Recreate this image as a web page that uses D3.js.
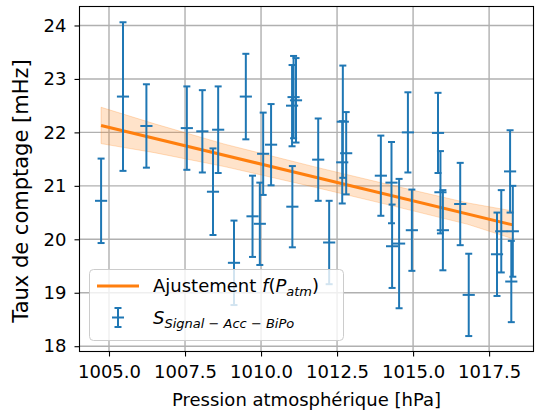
<!DOCTYPE html>
<html><head><meta charset="utf-8">
<script src="https://cdn.jsdelivr.net/npm/d3@7"></script>
<style>body{margin:0;background:#fff;} svg{display:block;font-family:"DejaVu Sans",sans-serif;}</style>
</head><body><svg id="c" width="535" height="414"></svg>
<script>
// Data
const pressure = [1004.74,1005.46,1006.23,1007.56,1008.07,1008.59,1008.42,1009.11,1009.50,1009.72,
  1009.96,1010.07,1010.33,1011.02,1011.07,1011.15,1011.03,1011.88,1012.24,1012.69,
  1012.67,1012.80,1013.94,1014.29,1014.31,1014.54,1014.83,1014.96,1015.82,1015.90,
  1015.98,1016.55,1016.83,1017.76,1017.90,1018.19,1018.28,1018.23];
const rate = [20.72,22.67,22.12,22.08,22.02,22.05,20.89,19.56,22.67,20.43,
  20.29,21.60,21.77,22.50,22.66,22.60,20.61,21.49,19.94,22.20,
  21.44,21.61,21.19,21.06,19.87,19.92,22.00,20.17,21.99,20.88,
  20.17,20.66,18.96,19.72,20.15,21.27,20.15,19.21];
const rateErr = [0.79,1.39,0.78,0.78,0.77,0.81,0.81,0.79,0.80,0.76,
  0.77,0.77,0.76,0.76,0.77,0.79,0.76,0.77,0.78,1.05,
  0.77,0.77,0.75,0.76,0.78,1.21,0.75,0.76,0.75,0.77,
  0.75,0.77,0.77,0.78,0.77,0.77,0.85,0.76];
const pressureErr = [0.2];
const fitP = [1004.74, 1018.28];
const fitRate = [22.13, 20.27];
const bandP = [1004.74, 1006.5, 1008.8, 1011.8, 1014.3, 1016.8, 1018.28];
const bandUpper = [22.47, 22.16, 21.78, 21.35, 21.01, 20.68, 20.53];
const bandLower = [21.79, 21.62, 21.36, 20.97, 20.63, 20.28, 20.01];
const xTicks = [1005.0, 1007.5, 1010.0, 1012.5, 1015.0, 1017.5];
const yTicks = [18, 19, 20, 21, 22, 23, 24];

const BLUE = "#1f77b4", ORANGE = "#ff7f0e";
const L = 79.5, R = 533.5, T = 6.5, B = 351.5;
const FS = 18;
const svg = d3.select("#c");
const x = d3.scaleLinear().domain([1004.03, 1018.96]).range([L, R]);
const y = d3.scaleLinear().domain([17.901, 24.355]).range([B, T]);

// grid
const g = svg.append("g");
g.selectAll(".gx").data(xTicks).join("line")
  .attr("x1", d => x(d)).attr("x2", d => x(d)).attr("y1", T).attr("y2", B)
  .attr("stroke", "#b0b0b0").attr("stroke-width", 1.4);
g.selectAll(".gy").data(yTicks).join("line")
  .attr("y1", d => y(d)).attr("y2", d => y(d)).attr("x1", L).attr("x2", R)
  .attr("stroke", "#b0b0b0").attr("stroke-width", 1.4);

// band
const bandData = bandP.map((p, i) => ({p, u: bandUpper[i], l: bandLower[i]}));
svg.append("path").datum(bandData)
  .attr("d", d3.area().x(d => x(d.p)).y0(d => y(d.l)).y1(d => y(d.u)))
  .attr("fill", ORANGE).attr("fill-opacity", 0.22)
  .attr("stroke", ORANGE).attr("stroke-opacity", 0.25).attr("stroke-width", 1);

// fit line
svg.append("path").datum(fitP.map((p, i) => [p, fitRate[i]]))
  .attr("d", d3.line().x(d => x(d[0])).y(d => y(d[1])))
  .attr("stroke", ORANGE).attr("stroke-width", 3).attr("fill", "none");

// error bars
const pts = pressure.map((p, i) => ({p, r: rate[i], e: rateErr[i]}));
const eb = svg.append("g").attr("stroke", BLUE).attr("stroke-width", 2);
const cap = 3.5;
pts.forEach(d => {
  const cx = x(d.p), cy = y(d.r), y1 = y(d.r + d.e), y2 = y(d.r - d.e);
  eb.append("line").attr("x1", cx).attr("x2", cx).attr("y1", y1).attr("y2", y2);
  eb.append("line").attr("x1", cx - cap).attr("x2", cx + cap).attr("y1", y1).attr("y2", y1);
  eb.append("line").attr("x1", cx - cap).attr("x2", cx + cap).attr("y1", y2).attr("y2", y2);
  eb.append("line").attr("x1", x(d.p - pressureErr[0])).attr("x2", x(d.p + pressureErr[0])).attr("y1", cy).attr("y2", cy);
});

// axes
const ax = svg.append("g").attr("transform", `translate(0,${B})`)
  .call(d3.axisBottom(x).tickValues(xTicks).tickFormat(d3.format(".1f")).tickSizeInner(5).tickSizeOuter(0).tickPadding(9));
const ay = svg.append("g").attr("transform", `translate(${L},0)`)
  .call(d3.axisLeft(y).tickValues(yTicks).tickFormat(d3.format("d")).tickSizeInner(5).tickSizeOuter(0).tickPadding(8));
[ax, ay].forEach(a => {
  a.select(".domain").remove();
  a.selectAll("text").attr("font-size", FS).attr("font-family", "DejaVu Sans").attr("fill", "#000");
  a.selectAll("line").attr("stroke", "#000").attr("stroke-width", 1.1);
});
svg.append("rect").attr("x", L).attr("y", T).attr("width", R - L).attr("height", B - T)
  .attr("fill", "none").attr("stroke", "#000").attr("stroke-width", 1.1);

svg.append("text").attr("x", (L + R) / 2).attr("y", 406).attr("text-anchor", "middle")
  .attr("font-size", FS).text("Pression atmosphérique [hPa]");
svg.append("text").attr("transform", `translate(28,191) rotate(-90)`).attr("text-anchor", "middle")
  .attr("font-size", 21).text("Taux de comptage [mHz]");

// legend
const lg = svg.append("g");
lg.append("rect").attr("x", 89.5).attr("y", 269.5).attr("width", 254).attr("height", 71).attr("rx", 4)
  .attr("fill", "#fff").attr("fill-opacity", 0.8).attr("stroke", "#cccccc");
lg.append("line").attr("x1", 97).attr("x2", 139).attr("y1", 286).attr("y2", 286)
  .attr("stroke", ORANGE).attr("stroke-width", 3);
const t1 = lg.append("text").attr("x", 153).attr("y", 292).attr("font-size", FS);
t1.append("tspan").text("Ajustement ");
t1.append("tspan").attr("font-style", "italic").text("f");
t1.append("tspan").text("(");
t1.append("tspan").attr("font-style", "italic").text("P");
t1.append("tspan").attr("font-style", "italic").attr("font-size", 13).attr("dy", 4).text("atm");
t1.append("tspan").attr("dy", -4).text(")");
const lb = lg.append("g").attr("stroke", BLUE).attr("stroke-width", 2);
lb.append("line").attr("x1", 118).attr("x2", 118).attr("y1", 308).attr("y2", 327);
lb.append("line").attr("x1", 114.5).attr("x2", 121.5).attr("y1", 308).attr("y2", 308);
lb.append("line").attr("x1", 114.5).attr("x2", 121.5).attr("y1", 327).attr("y2", 327);
lb.append("line").attr("x1", 112).attr("x2", 124).attr("y1", 317.5).attr("y2", 317.5);
const t2 = lg.append("text").attr("x", 153).attr("y", 324).attr("font-size", FS);
t2.append("tspan").attr("font-style", "italic").text("S");
t2.append("tspan").attr("font-size", 13).attr("dy", 4).attr("font-style", "italic").text("Signal");
t2.append("tspan").attr("font-size", 13).text(" − ");
t2.append("tspan").attr("font-size", 13).attr("font-style", "italic").text("Acc");
t2.append("tspan").attr("font-size", 13).text(" − ");
t2.append("tspan").attr("font-size", 13).attr("font-style", "italic").text("BiPo");
</script></body></html>
